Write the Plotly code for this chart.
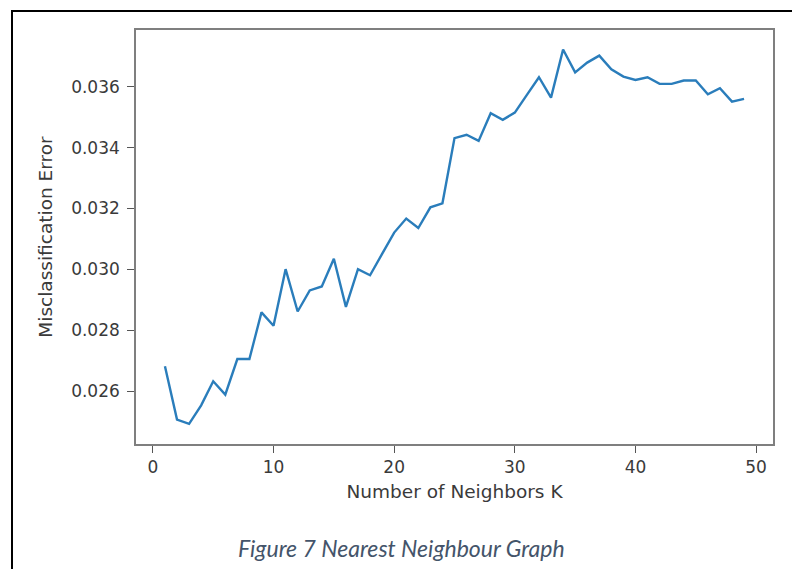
import plotly.graph_objects as go

k_values = list(range(1, 50))
errors = [
    0.02682, 0.02507, 0.02493, 0.02554, 0.02633, 0.02589, 0.02706, 0.02706, 0.02859, 0.02815,
    0.03001, 0.02862, 0.02931, 0.02944, 0.03035, 0.02877, 0.03001, 0.02981, 0.03051, 0.03121,
    0.03167, 0.03136, 0.03204, 0.03217, 0.03431, 0.03442, 0.03422, 0.03513, 0.03491, 0.03515,
    0.03573, 0.03631, 0.03564, 0.03722, 0.03647, 0.03679, 0.03702, 0.03657, 0.03633, 0.03622,
    0.03631, 0.03609, 0.03609, 0.03620, 0.03620, 0.03575, 0.03595, 0.03551, 0.03560,
]
x_ticks = [0, 10, 20, 30, 40, 50]
y_ticks = [0.026, 0.028, 0.030, 0.032, 0.034, 0.036]
x_title = "Number of Neighbors K"
y_title = "Misclassification Error"
caption = "Figure 7 Nearest Neighbour Graph"

OFF = 8  # page body margin
W, H = 800 - OFF, 569 - OFF
L, T = 136 - OFF, 30 - OFF
R = W - (773 - OFF)
B = H - (444 - OFF)
pw, ph = W - L - R, H - T - B

def px(x):
    return (x - OFF - L) / pw

def py(y):
    return (H - B - (y - OFF)) / ph

fig = go.Figure()
fig.add_trace(go.Scatter(
    x=k_values, y=errors, mode="lines",
    line=dict(color="#2a7dbb", width=2.4),
    showlegend=False,
))

axis_common = dict(
    showgrid=False, zeroline=False,
    showline=True, linecolor="#7f7f7f", linewidth=1.6, mirror=True,
    ticks="outside", ticklen=7, tickwidth=1.3, tickcolor="#555555",
    tickfont=dict(family="DejaVu Sans", size=17, color="#3a3a3a"),
)

fig.update_xaxes(
    range=[-1.4, 51.4], tickvals=x_ticks,
    title=dict(text=x_title, font=dict(family="DejaVu Sans", size=18.5, color="#3a3a3a"), standoff=9),
    **axis_common,
)
fig.update_yaxes(
    range=[0.02427, 0.03786], tickvals=y_ticks, tickformat=".3f",
    ticklabelstandoff=4,
    title=dict(text=y_title, font=dict(family="DejaVu Sans", size=18.5, color="#3a3a3a"), standoff=14),
    **axis_common,
)

# outer document frame
frame = dict(color="black", width=2)
fig.add_shape(type="line", xref="paper", yref="paper", x0=px(12), x1=px(12), y0=py(11), y1=py(580), line=frame)
fig.add_shape(type="line", xref="paper", yref="paper", x0=px(797), x1=px(797), y0=py(11), y1=py(580), line=frame)
fig.add_shape(type="line", xref="paper", yref="paper", x0=px(11), x1=px(798), y0=py(11), y1=py(11), line=frame)

fig.add_annotation(
    text=caption, xref="paper", yref="paper", x=px(401), y=py(548),
    showarrow=False, xanchor="center", yanchor="middle",
    font=dict(family="Lato", size=23, color="#44546A", style="italic"),
)

fig.update_layout(
    width=W, height=H,
    margin=dict(l=L, r=R, t=T, b=B),
    paper_bgcolor="white", plot_bgcolor="white",
)

fig.write_html("out.html")
